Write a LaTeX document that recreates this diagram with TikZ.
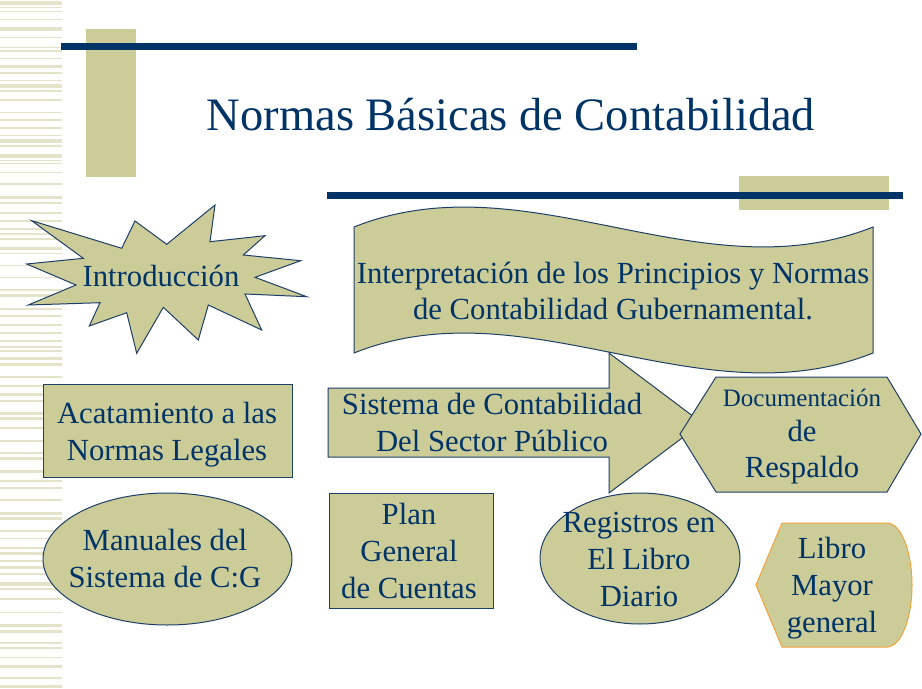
\documentclass[tikz,border=0pt]{standalone}
\usepackage{fontspec}
\setmainfont{Liberation Serif}
\definecolor{khaki}{HTML}{CCCC99}
\definecolor{navy}{HTML}{003366}
\definecolor{stripe}{HTML}{E5E3C9}
\definecolor{edge}{HTML}{1F4066}
\definecolor{orng}{HTML}{F2A33A}
\begin{document}
\begin{tikzpicture}[x=1bp,y=-1bp,
  shapefill/.style={fill=khaki, draw=edge, line width=1bp, line join=miter},
  txt/.style={text=navy, align=center, inner sep=0pt, font=\fontsize{30.7bp}{37bp}\selectfont}]
\useasboundingbox (0,0) rectangle (922,689);
\fill[white] (0,0) rectangle (922,689);
% left stripes
\foreach \a/\b in {1/4.7, 6.7/7.7, 10.7/11.7, 19/20, 27/31, 36.7/38.3, 46.7/47.7, 49.7/51.7, 57.7/59, 65/67.7, 71.7/73.7, 79.7/80.7, 84/87.7, 89.7/91.7, 99.3/100.7, 111.7/113, 118.7/121.3, 126.7/128.7, 134.7/136, 138.7/142.7, 144.7/146.7, 154/157.7, 159.7/160.7, 163/164, 172/173, 183.3/184.7, 195.7/198.7, 202/204, 211.7/214.3, 220/221.7, 228.3/230, 232.7/235.3, 237.7/239.7, 246.7/250.3, 252.7/254, 265/266.3, 276.7/278, 288.7/291.3, 294/296.7, 308.3/310, 315/316.7, 323.7/326.3, 332/334, 340/342, 346/347.7, 349.7/351.7, 357/359.7, 363.3/366, 375.7/378, 385/386.7, 393.3/396, 400/401.7, 411.7/415, 417/420, 426.7/429, 440/441.7, 451.7/454.3, 457/460, 470/473.3, 480/481.7, 487.3/489, 499/500.7, 511.7/515, 517/519.7, 530.3/532.3, 537.7/539.3, 546.7/549.3, 552.3/554.7, 560.3/562, 565.7/569, 573.3/575, 582.3/585.7, 588.3/590, 598.3/600, 611.7/613.3, 623.7/627, 630/632.7, 641.7/643.7, 647.3/649.3, 656.7/658.3, 665/668.3, 676.7/679.3, 685/688}
  \fill[stripe] (0,\a) rectangle (62,\b);
% top decorations
\fill[khaki] (86,29) rectangle (136,177);
\fill[navy] (61,43) rectangle (637,50);
\fill[khaki] (739,176) rectangle (889,210);
\fill[navy] (327,192) rectangle (903,199);
% title
\node[text=navy, inner sep=0pt, anchor=base, font=\fontsize{46.5bp}{56bp}\selectfont] (title) at (511,131) {Normas Básicas de Contabilidad};
% star
\draw[shapefill] (31.7,220.7) -- (121.7,248.3) -- (135,221) -- (166.7,244.3) -- (215,205) -- (210,241.7) -- (265,235.7) -- (243.3,255) -- (300.7,260.7) -- (255,277.3) -- (306.7,296.7) -- (245,294) -- (261.7,330) -- (208.3,305) -- (198.3,340) -- (163.3,307.3) -- (136.7,353.3) -- (126.7,312.7) -- (89.3,326) -- (100,302.7) -- (28.3,305) -- (76,285) -- (26.7,264) -- (83.3,258.3) -- cycle;
\node[txt, anchor=base] (intro) at (161,286) {Introducción};
% wave
\draw[shapefill] (354,227) .. controls (527,158) and (700,296) .. (873,227) -- (873,353) .. controls (700,422) and (527,284) .. (354,353) -- cycle;
\node[txt, font=\fontsize{30.7bp}{36bp}\selectfont] (interp) at (613,294.3) {\strut Interpretación de los Principios y Normas\\\strut de Contabilidad Gubernamental.};
% rectangle Acatamiento
\draw[shapefill] (43,384) rectangle (292,477);
\node[txt] (acat) at (167,434.1) {\strut Acatamiento a las\\\strut Normas Legales};
% arrow Sistema
\draw[shapefill] (328,388) -- (609,388) -- (609,353) -- (702,423) -- (609,493) -- (609,457) -- (328,457) -- cycle;
\node[txt] (sist) at (492,425.4) {\strut Sistema de Contabilidad\\\strut Del Sector Público};
% hexagon Documentacion
\draw[shapefill] (680,434) -- (716,377) -- (887,377) -- (921,434) -- (887,492) -- (716,492) -- cycle;
\node[txt, font=\fontsize{30.7bp}{35.5bp}\selectfont] (docu) at (802,434.4) {\strut{\fontsize{25bp}{30bp}\selectfont Documentación}\\\strut de\\\strut Respaldo};
% ellipse Manuales
\draw[shapefill] (167.5,559) ellipse [x radius=124.5, y radius=66];
\node[txt] (manu) at (165,561.1) {\strut Manuales del\\\strut Sistema de C:G};
% rectangle Plan
\draw[shapefill] (329,493) rectangle (493,608);
\node[txt] (plan) at (409,553.6) {\strut Plan\\\strut General\\\strut de Cuentas};
% ellipse Registros
\draw[shapefill] (640,558.5) ellipse [x radius=100, y radius=65.5];
\node[txt] (regi) at (639,561.6) {\strut Registros en\\\strut El Libro\\\strut Diario};
% display shape Libro Mayor
\draw[fill=khaki, draw=orng, line width=1bp, line join=miter] (756,585) -- (782,523) -- (887,523) .. controls (900.8,523) and (912,550.8) .. (912,585) .. controls (912,619.2) and (900.8,647) .. (887,647) -- (782,647) -- cycle;
\node[txt] (libro) at (832,587.6) {\strut Libro\\\strut Mayor\\\strut general};
\end{tikzpicture}
\end{document}
